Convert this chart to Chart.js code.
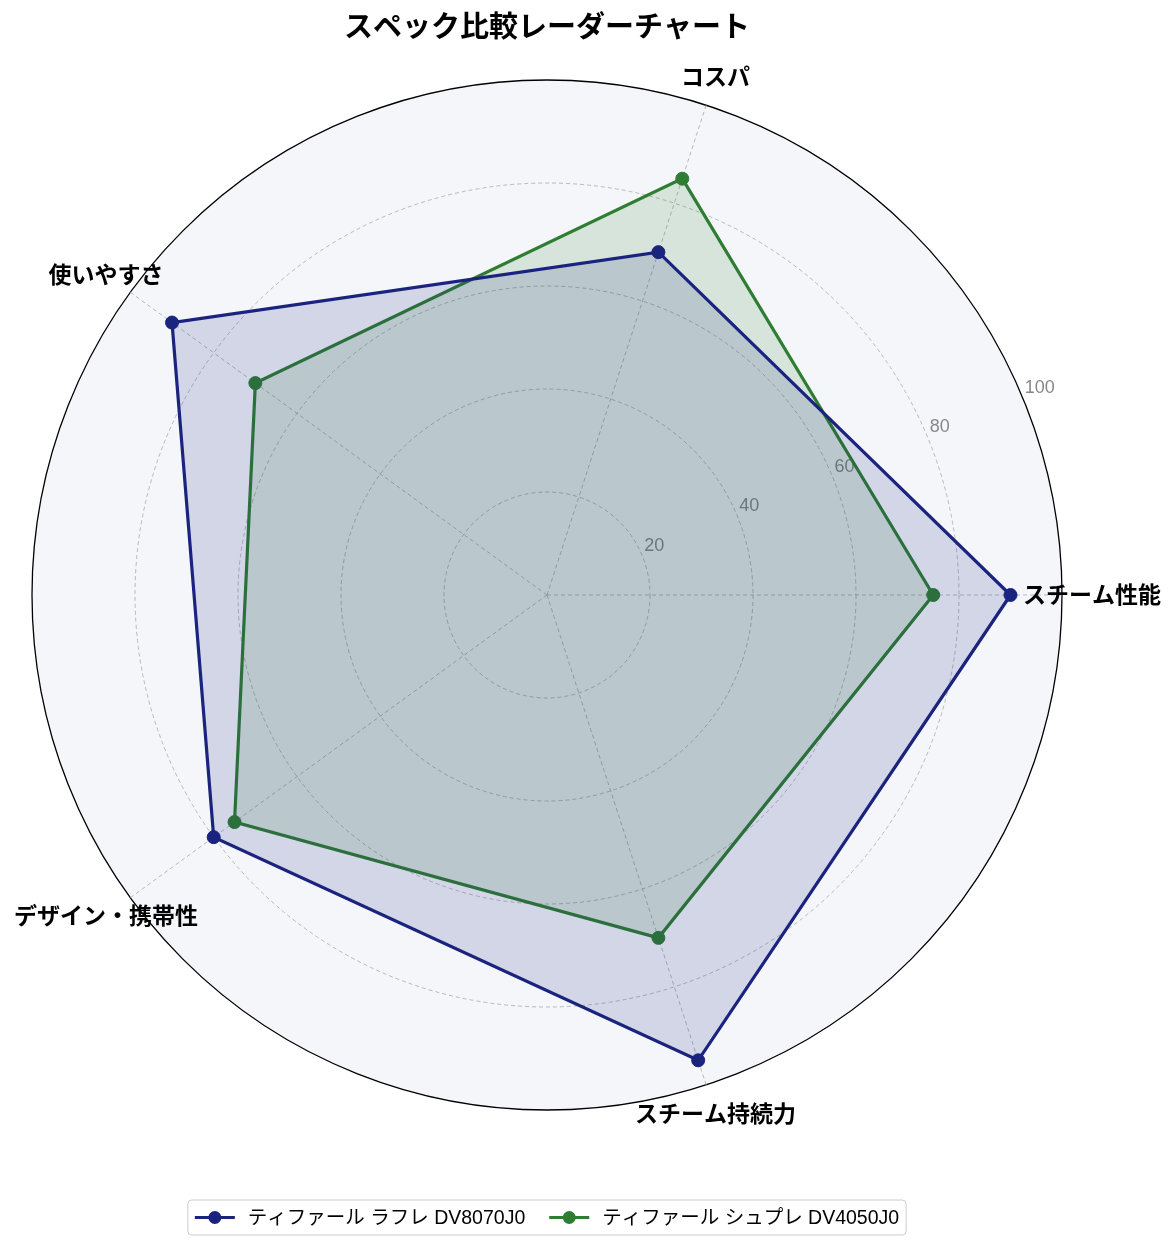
<!DOCTYPE html>
<html lang="ja">
<head>
<meta charset="utf-8">
<title>スペック比較レーダーチャート</title>
<script src="https://cdn.jsdelivr.net/npm/chart.js@4.4.1/dist/chart.umd.min.js"></script>
<style>
  html, body { margin: 0; padding: 0; background: #fff; }
  #wrap { width: 1175px; height: 1251px; }
</style>
</head>
<body>
<div id="wrap"><canvas id="radar" width="1175" height="1251"></canvas></div>
<script>
// axes, clockwise from the right
const categories = ['スチーム性能', 'スチーム持続力', 'デザイン・携帯性', '使いやすさ', 'コスパ'];
const laflaValues = [90, 95, 80, 90, 70];
const supureValues = [75, 70, 75, 70, 85];
const tickValues = [20, 40, 60, 80, 100];
const seriesNames = ['ティファール ラフレ DV8070J0', 'ティファール シュプレ DV4050J0'];
const seriesColors = ['#1a237e', '#2e7d32'];
const seriesFills = ['rgba(26, 35, 126, 0.15)', 'rgba(46, 125, 50, 0.15)'];
const chartTitle = 'スペック比較レーダーチャート';

const FONT = '"Liberation Sans", "Noto Sans CJK JP", sans-serif';

// tick labels along the 22.5deg line, under the fills
const tickLabels = {
  id: 'tickLabels',
  beforeDatasetsDraw(chart) {
    const r = chart.scales.r;
    const ctx = chart.ctx;
    const a = 22.5 * Math.PI / 180;
    ctx.save();
    ctx.font = '18px ' + FONT;
    ctx.fillStyle = '#888';
    ctx.textAlign = 'left';
    ctx.textBaseline = 'middle';
    tickValues.forEach(v => {
      const d = r.getDistanceFromCenterForValue(v);
      const x = r.xCenter + d * Math.cos(a);
      const y = r.yCenter - d * Math.sin(a);
      ctx.fillText(String(v), x + 2, y - 10);
    });
    ctx.restore();
  }
};

// axis names, title and legend
const extras = {
  id: 'extras',
  afterDraw(chart) {
    const r = chart.scales.r;
    const ctx = chart.ctx;
    ctx.save();

    ctx.font = 'bold 23px ' + FONT;
    ctx.fillStyle = '#000';
    ctx.textAlign = 'center';
    ctx.textBaseline = 'middle';
    chart.data.labels.forEach((lab, i) => {
      const p = r.getPointPosition(i, r.drawingArea + 30);
      ctx.fillText(lab, p.x, p.y + 2);
    });

    ctx.font = 'bold 29px ' + FONT;
    ctx.fillText(chartTitle, r.xCenter, 29);

    // legend
    ctx.font = '19.5px ' + FONT;
    const sets = chart.data.datasets;
    const widths = sets.map(ds => ctx.measureText(ds.label).width);
    const lineW = 40, gapT = 13, gapI = 24, pad = 7;
    let total = pad * 2 + gapI * (sets.length - 1);
    widths.forEach(w => { total += lineW + gapT + w; });
    const left = r.xCenter - total / 2;
    const top = 1200, h = 35, cy = top + h / 2;
    ctx.beginPath();
    ctx.roundRect(left, top, total, h, 4);
    ctx.fillStyle = 'rgba(255,255,255,0.8)';
    ctx.fill();
    ctx.strokeStyle = '#cccccc';
    ctx.lineWidth = 1;
    ctx.stroke();
    let x = left + pad;
    sets.forEach((ds, i) => {
      ctx.strokeStyle = ds.borderColor;
      ctx.lineWidth = 3;
      ctx.beginPath();
      ctx.moveTo(x, cy);
      ctx.lineTo(x + lineW, cy);
      ctx.stroke();
      ctx.fillStyle = ds.borderColor;
      ctx.beginPath();
      ctx.arc(x + lineW / 2, cy, 6.5, 0, Math.PI * 2);
      ctx.fill();
      ctx.fillStyle = '#000';
      ctx.textAlign = 'left';
      ctx.fillText(ds.label, x + lineW + gapT, cy + 1);
      x += lineW + gapT + widths[i] + gapI;
    });
    ctx.restore();
  }
};

new Chart(document.getElementById('radar'), {
  type: 'radar',
  data: {
    labels: categories,
    datasets: [
      {
        label: seriesNames[0],
        data: laflaValues,
        borderColor: seriesColors[0],
        backgroundColor: seriesFills[0],
        pointBackgroundColor: seriesColors[0],
        pointBorderColor: seriesColors[0],
        borderWidth: 3.2,
        pointRadius: 6.5,
        pointBorderWidth: 1,
        fill: true
      },
      {
        label: seriesNames[1],
        data: supureValues,
        borderColor: seriesColors[1],
        backgroundColor: seriesFills[1],
        pointBackgroundColor: seriesColors[1],
        pointBorderColor: seriesColors[1],
        borderWidth: 3.2,
        pointRadius: 6.5,
        pointBorderWidth: 1,
        fill: true
      }
    ]
  },
  options: {
    responsive: false,
    animation: false,
    layout: { padding: { left: 32, right: 113, top: 80, bottom: 141 } },
    elements: { line: { tension: 0 } },
    plugins: {
      legend: { display: false },
      title: { display: false },
      tooltip: { enabled: false }
    },
    scales: {
      r: {
        min: 0,
        max: 100,
        startAngle: 90,
        backgroundColor: '#f4f6fa',
        ticks: { stepSize: 20, display: false },
        pointLabels: { display: false },
        grid: {
          circular: true,
          color: c => (c.tick && c.tick.value === 100) ? '#000' : '#aaaaaa',
          lineWidth: c => (c.tick && c.tick.value === 100) ? 1.3 : 0.8
        },
        border: {
          dash: c => (c.tick && c.tick.value === 100) ? [] : [4, 3]
        },
        angleLines: { color: '#aaaaaa', lineWidth: 0.8, borderDash: [4, 3] }
      }
    }
  },
  plugins: [tickLabels, extras]
});
</script>
</body>
</html>
